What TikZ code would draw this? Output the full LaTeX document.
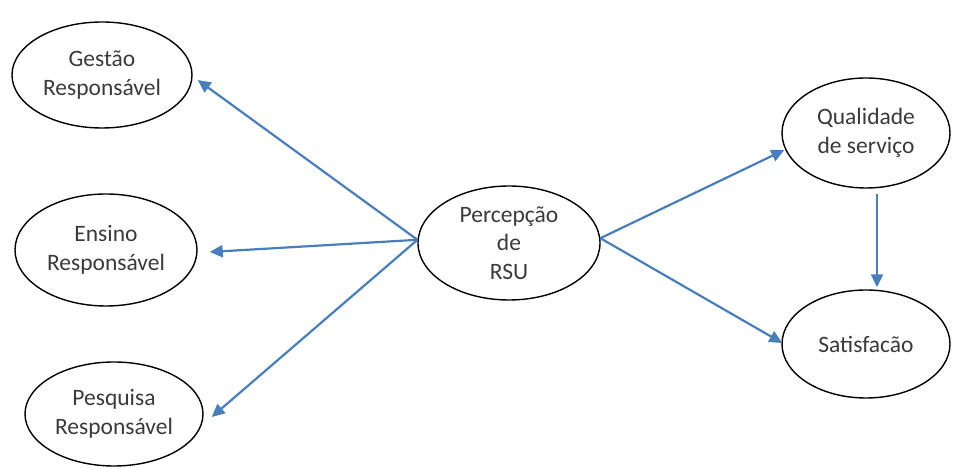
\documentclass[tikz,border=0pt]{standalone}
\usepackage{fontspec}
\setmainfont{Carlito}
\usetikzlibrary{shapes.geometric,arrows.meta}
\definecolor{linkblue}{HTML}{4A7EBB}
\definecolor{txtgray}{HTML}{3A3A3A}
\begin{document}
\begin{tikzpicture}[x=1pt,y=1pt,
  construct/.style={ellipse,draw=black,line width=1.4pt,inner sep=0pt,
    align=center,text=txtgray,
    font=\fontsize{23.5}{28.5}\selectfont},
  link/.style={draw=linkblue,line width=2.2pt,
    -{Triangle[length=13pt,width=12pt]}}]
\useasboundingbox (0,0) rectangle (953,468);

% constructs
\node[construct,minimum width=180pt,minimum height=106pt] (g)  at (102,393) {Gestão\\Responsável};
\node[construct,minimum width=182pt,minimum height=112pt] (e)  at (106,218) {Ensino\\Responsável};
\node[construct,minimum width=178pt,minimum height=104pt] (pq) at (114,54)  {Pesquisa\\Responsável};
\node[construct,minimum width=182pt,minimum height=114pt] (p)  at (509,225) {Percepção\\de\\RSU};
\node[construct,minimum width=168pt,minimum height=110pt] (q)  at (866,335) {Qualidade\\de serviço};
\node[construct,minimum width=168pt,minimum height=108pt] (s)  at (866,124) {Satisfacão};

% paths from the central construct
\draw[link] (p.178) -- ([shift={(5,-5)}]g.east);
\draw[link] (p.178) -- ([shift={(12,-2)}]e.east);
\draw[link] (p.178) -- ([shift={(8,-3)}]pq.east);
\draw[link] (p.3) -- ([shift={(3,-17)}]q.west);
\draw[link] (p.3) -- ([shift={(1,1)}]s.west);
\draw[link,shorten <=5pt,shorten >=2pt] ([xshift=11pt]q.south) -- ([xshift=11pt]s.north);
\end{tikzpicture}
\end{document}
